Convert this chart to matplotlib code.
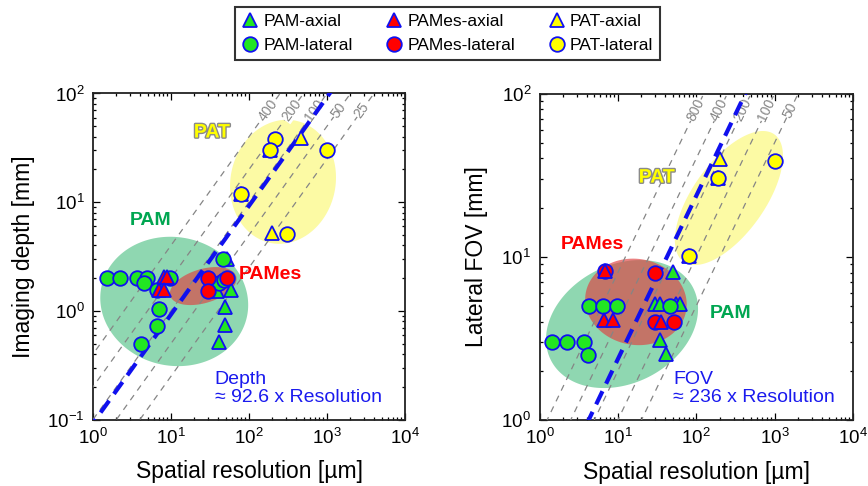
import numpy as np
import matplotlib
matplotlib.use('Agg')
import matplotlib.pyplot as plt
import matplotlib.patheffects as pe
from matplotlib.lines import Line2D

plt.rcParams['font.family'] = ['Liberation Sans', 'DejaVu Sans']
plt.rcParams['mathtext.fontset'] = 'custom'
plt.rcParams['mathtext.rm'] = 'Liberation Sans'
plt.rcParams['mathtext.it'] = 'Liberation Sans:italic'

# ---- depth vs resolution (left) ----
pam_ax_res_d = [52.3, 38.9, 58.8, 49.7, 49.7, 40.8]
pam_ax_depth = [2.98, 1.52, 1.55, 1.08, 0.74, 0.52]
pam_lat_res_d = [1.49, 2.25, 3.68, 4.94, 4.47, 9.8, 6.63, 6.96, 6.63, 4.18, 46.5, 40.8, 47.3]
pam_lat_depth = [2.02, 2.02, 2.02, 2.02, 1.79, 2.02, 1.55, 1.05, 0.72, 0.50, 2.98, 1.79, 1.93]
pames_ax_res_d = [8.23, 9.0, 6.96, 8.23]
pames_ax_depth = [2.06, 2.06, 1.55, 1.55]
pames_lat_res_d = [29.5, 52.3, 29.5]
pames_lat_depth = [2.02, 2.02, 1.52]
pat_ax_res_d = [463, 197, 187, 80]
pat_ax_depth = [38.6, 5.16, 30.1, 12.0]
pat_lat_res_d = [217, 187, 997, 80, 307]
pat_lat_depth = [37.8, 30.1, 30.1, 12.0, 5.06]

# ---- lateral FOV vs resolution (right) ----
pam_ax_res_f = [49.8, 29.5, 34.2, 55, 61.8, 34.2, 40.8]
pam_ax_fov = [8.07, 5.11, 5.11, 5.11, 5.11, 3.07, 2.52]
pam_lat_res_f = [4.32, 6.53, 9.68, 45.9, 1.46, 2.27, 3.72, 4.11]
pam_lat_fov = [4.97, 4.97, 4.97, 4.97, 3.0, 3.0, 3.0, 2.51]
pames_ax_res_f = [6.93, 6.73, 8.6, 36]
pames_ax_fov = [8.15, 4.08, 4.08, 3.98]
pames_lat_res_f = [6.93, 30.1, 29.5, 52.2]
pames_lat_fov = [8.15, 8.0, 3.98, 3.98]
pat_ax_res_f = [201, 192, 81.3]
pat_ax_fov = [39.5, 30.2, 10.1]
pat_lat_res_f = [192, 1024, 81.3]
pat_lat_fov = [30.2, 38.5, 10.1]

depth_ratios = [400, 200, 100, 50, 25]
fov_ratios = [800, 400, 200, 100, 50]
depth_fit = 92.6
fov_fit = 236

legend_labels = ['PAM-axial', 'PAM-lateral', 'PAMes-axial', 'PAMes-lateral', 'PAT-axial', 'PAT-lateral']

W, H = 868, 486
fig = plt.figure(figsize=(W / 100, H / 100), dpi=100)
ax1 = fig.add_axes([93 / W, 1 - 419.5 / H, 312 / W, 326 / H])
ax2 = fig.add_axes([539.5 / W, 1 - 420 / H, 313.5 / W, 326.5 / H])

green = '#22e622'
edge = '#1010f0'


def ellipse(ax, cx, cy, a, b, ang, color, alpha, z):
    # ellipse defined in pixel units around a data-space centre (log axes)
    pos = ax.get_position()
    xl = np.log10(ax.get_xlim())
    yl = np.log10(ax.get_ylim())
    ppx = pos.width * W / (xl[1] - xl[0])
    ppy = pos.height * H / (yl[1] - yl[0])
    t = np.linspace(0, 2 * np.pi, 200)
    th = np.radians(ang)
    u = a * np.cos(t)
    v = b * np.sin(t)
    dx = u * np.cos(th) - v * np.sin(th)
    dy = u * np.sin(th) + v * np.cos(th)
    ax.fill(10 ** (np.log10(cx) + dx / ppx), 10 ** (np.log10(cy) + dy / ppy),
            color=color, alpha=alpha, lw=0, zorder=z)
    return ppx, ppy


def setup(ax, ylim, ylabel, ylab_x):
    ax.set_xscale('log')
    ax.set_yscale('log')
    ax.set_xlim(1, 1e4)
    ax.set_ylim(*ylim)
    ax.tick_params(which='both', direction='in', top=True, right=True, labelsize=13.5, width=0.9)
    ax.tick_params(which='major', length=5, pad=6)
    ax.tick_params(which='minor', length=2.5)
    for s in ax.spines.values():
        s.set_linewidth(1.3)
        s.set_color('#222222')
    ax.set_xlabel('Spatial resolution [µm]', fontsize=16.5)
    ax.set_ylabel(ylabel, fontsize=16.5)
    ax.xaxis.set_label_coords(0.5, -0.16)
    ax.xaxis.label.set_va('center')
    ax.yaxis.set_label_coords(ylab_x, 0.5)
    ax.yaxis.label.set_va('center')


def guides(ax, ratios, fit, ylab, ppx, ppy):
    xs = np.logspace(-2, 5, 20)
    rot = np.degrees(np.arctan(ppy / ppx))
    for k in ratios:
        ax.plot(xs, xs * k / 1000, color='#858585', lw=0.9, dashes=[5, 4.5], zorder=3)
        ax.text(ylab * 1000 / k, ylab, str(k), color='#858585', fontsize=10, rotation=rot,
                ha='center', va='center', rotation_mode='anchor', zorder=3.5,
                bbox=dict(fc='white', ec='none', pad=0.2))
    ax.plot(xs, xs * fit / 1000, color='#1010ee', lw=3, dashes=[3.5, 2], zorder=4)


def points(ax, data):
    for (x, y, m, c), z in zip(data, range(5, 11)):
        ax.plot(x, y, ls='none', marker=m, mfc=c, mec=edge, mew=1.3, ms=10.5, zorder=z)


setup(ax1, (0.1, 100), 'Imaging depth [mm]', -0.224)
setup(ax2, (1, 100), 'Lateral FOV [mm]', -0.2)

# left panel
ellipse(ax1, 11.0, 1.22, 74.3, 64.3, -11, '#8fd7b1', 1, 1)
ellipse(ax1, 25.9, 1.69, 34.4, 17, 16.5, '#e04040', 0.65, 2)
px1, py1 = ellipse(ax1, 273, 15.4, 62.4, 52.5, 78, '#fcfaa4', 1, 1)
guides(ax1, depth_ratios, depth_fit, 70, px1, py1)
points(ax1, [(pam_ax_res_d, pam_ax_depth, '^', green),
             (pam_lat_res_d, pam_lat_depth, 'o', green),
             (pames_lat_res_d, pames_lat_depth, 'o', 'red'),
             (pames_ax_res_d, pames_ax_depth, '^', 'red'),
             (pat_ax_res_d, pat_ax_depth, '^', 'yellow'),
             (pat_lat_res_d, pat_lat_depth, 'o', 'yellow')])

# right panel
ellipse(ax2, 11.3, 3.87, 79.8, 59.2, 27, '#8fd7b1', 1, 1)
ellipse(ax2, 17.0, 5.29, 51, 43, -10, '#e04040', 0.65, 2)
px2, py2 = ellipse(ax2, 261, 22.9, 78.2, 36, 54.5, '#fcfaa4', 1, 1)
guides(ax2, fov_ratios, fov_fit, 79, px2, py2)
points(ax2, [(pam_ax_res_f, pam_ax_fov, '^', green),
             (pam_lat_res_f, pam_lat_fov, 'o', green),
             (pames_lat_res_f, pames_lat_fov, 'o', 'red'),
             (pames_ax_res_f, pames_ax_fov, '^', 'red'),
             (pat_ax_res_f, pat_ax_fov, '^', 'yellow'),
             (pat_lat_res_f, pat_lat_fov, 'o', 'yellow')])

pat_fx = [pe.withStroke(linewidth=2, foreground='#8a8a8a')]
for ax, pam_xy, pames_xy, pat_xy, txt, txt_xy in [
        (ax1, (0.185, 0.609), (0.567, 0.446), (0.381, 0.879), 'Depth\n≈ 92.6 x Resolution', (0.39, 0.095)),
        (ax2, (0.608, 0.327), (0.169, 0.536), (0.374, 0.741), 'FOV\n≈ 236 x Resolution', (0.426, 0.097))]:
    ax.text(*pam_xy, 'PAM', transform=ax.transAxes, color='#00a651', fontsize=14,
            fontweight='bold', ha='center', va='center', zorder=12)
    ax.text(*pames_xy, 'PAMes', transform=ax.transAxes, color='#ff0000', fontsize=14,
            fontweight='bold', ha='center', va='center', zorder=12)
    ax.text(*pat_xy, 'PAT', transform=ax.transAxes, color='#ffff00', fontsize=14,
            fontweight='bold', ha='center', va='center', zorder=12, path_effects=pat_fx)
    ax.text(*txt_xy, txt, transform=ax.transAxes, color='#1a1aee', fontsize=14,
            ha='left', va='center', linespacing=1.1, zorder=12)

handles = []
for m, c in [('^', green), ('o', green), ('^', 'red'), ('o', 'red'), ('^', 'yellow'), ('o', 'yellow')]:
    handles.append(Line2D([], [], ls='none', marker=m, mfc=c, mec=edge, mew=1.3, ms=10.5))
leg = fig.legend(handles, legend_labels, ncol=3, loc='upper center', bbox_to_anchor=(0.5155, 1.004),
                 fontsize=12.5, frameon=True, fancybox=False, edgecolor='black',
                 handlelength=1.0, handletextpad=0.25, columnspacing=1.9,
                 borderpad=0.4, labelspacing=0.5)
leg.get_frame().set_linewidth(1.5)

fig.savefig('out.png', dpi=100)
